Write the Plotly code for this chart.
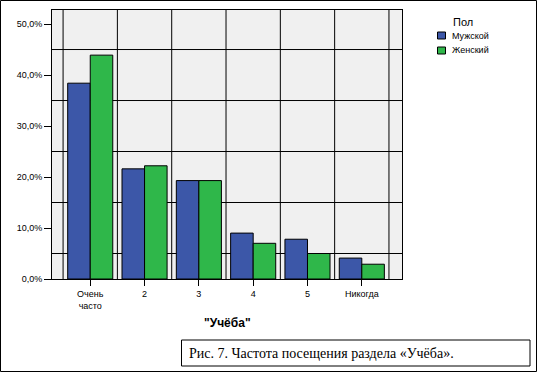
import plotly.graph_objects as go

categories = ["Очень<br>часто", "2", "3", "4", "5", "Никогда"]
male = [38.4, 21.6, 19.3, 9.0, 7.8, 4.1]
female = [43.9, 22.2, 19.3, 7.0, 5.0, 2.9]
series_names = ["Мужской", "Женский"]
legend_title = "Пол"
y_tick_vals = [0, 10, 20, 30, 40, 50]
y_tick_text = ["0,0%", "10,0%", "20,0%", "30,0%", "40,0%", "50,0%"]
y_grid_vals = [5, 15, 25, 35, 45]
x_grid_vals = [-0.5, 0.5, 1.5, 2.5, 3.5, 4.5, 5.5]

BLUE = "#3c57a8"
GREEN = "#2fb74a"
FONT = "Arial, Liberation Sans, sans-serif"

W, H = 538, 375
L, R, T, B = 52, 402, 10, 279


def px_x(px):
    return (px - L) / (R - L)


def px_y(py):
    return (B - py) / (B - T)


fig = go.Figure()
fig.add_trace(go.Bar(x=categories, y=male, name=series_names[0],
                     marker=dict(color=BLUE, line=dict(color="black", width=1))))
fig.add_trace(go.Bar(x=categories, y=female, name=series_names[1],
                     marker=dict(color=GREEN, line=dict(color="black", width=1))))

shapes = []
for gv in y_grid_vals:
    shapes.append(dict(type="line", xref="paper", yref="y", x0=0, x1=1, y0=gv, y1=gv,
                       line=dict(color="black", width=1), layer="below"))
for gx in x_grid_vals:
    shapes.append(dict(type="line", xref="x", yref="paper", x0=gx, x1=gx, y0=0, y1=1,
                       line=dict(color="black", width=1), layer="below"))
# outer frame
shapes.append(dict(type="rect", xref="paper", yref="paper",
                   x0=px_x(0.5), x1=px_x(536.5), y0=px_y(0.5), y1=px_y(371.5),
                   line=dict(color="black", width=1)))
# caption box
shapes.append(dict(type="rect", xref="paper", yref="paper",
                   x0=px_x(181.5), x1=px_x(530), y0=px_y(340), y1=px_y(366),
                   line=dict(color="black", width=1)))

annotations = [
    dict(text='<b>"Учёба"</b>', xref="paper", yref="paper",
         x=0.5, y=px_y(323), xanchor="center", yanchor="middle",
         showarrow=False, font=dict(family=FONT, size=12, color="black")),
    dict(text="Рис. 7. Частота посещения раздела «Учёба».", xref="paper", yref="paper",
         x=px_x(187), y=px_y(353), xanchor="left", yanchor="middle",
         showarrow=False, font=dict(family="Liberation Serif, Times New Roman, serif", size=14, color="black")),
    dict(text=legend_title, xref="paper", yref="paper",
         x=px_x(463), y=px_y(22), xanchor="center", yanchor="middle",
         showarrow=False, font=dict(family=FONT, size=11, color="black")),
]

# manual legend (small swatches like the original)
legend_rows = [35.5, 50.5]
for name, color, cy in zip(series_names, [BLUE, GREEN], legend_rows):
    shapes.append(dict(type="rect", xref="paper", yref="paper",
                       x0=px_x(437.5), x1=px_x(445.5), y0=px_y(cy - 3.5), y1=px_y(cy + 3.5),
                       fillcolor=color, line=dict(color="black", width=1)))
    annotations.append(dict(text=name, xref="paper", yref="paper",
                            x=px_x(450), y=px_y(cy), xanchor="left", yanchor="middle",
                            showarrow=False, font=dict(family=FONT, size=9, color="black")))

fig.update_layout(
    width=W, height=H,
    margin=dict(l=L, r=W - R, t=T, b=H - B, autoexpand=False),
    paper_bgcolor="white",
    plot_bgcolor="#f0f0f0",
    barmode="group",
    bargap=0.17,
    bargroupgap=0,
    showlegend=False,
    font=dict(family=FONT, size=9, color="black"),
    shapes=shapes,
    annotations=annotations,
    xaxis=dict(
        range=[-0.704, 5.74],
        showgrid=False,
        showline=True, linecolor="black", linewidth=1, mirror=True,
        ticks="outside", ticklen=6, tickcolor="black", tickwidth=1,
        tickfont=dict(family=FONT, size=9, color="black"),
        fixedrange=True,
    ),
    yaxis=dict(
        range=[0, 52.75],
        tickvals=y_tick_vals, ticktext=y_tick_text,
        showgrid=False, zeroline=False,
        showline=True, linecolor="black", linewidth=1, mirror=True,
        ticks="outside", ticklen=7, tickcolor="black", tickwidth=1,
        tickfont=dict(family=FONT, size=9, color="black"),
        fixedrange=True,
    ),
)

fig.write_html("out.html", config={"displayModeBar": False},
               post_script="document.body.style.margin='0';document.body.style.overflow='hidden';")
